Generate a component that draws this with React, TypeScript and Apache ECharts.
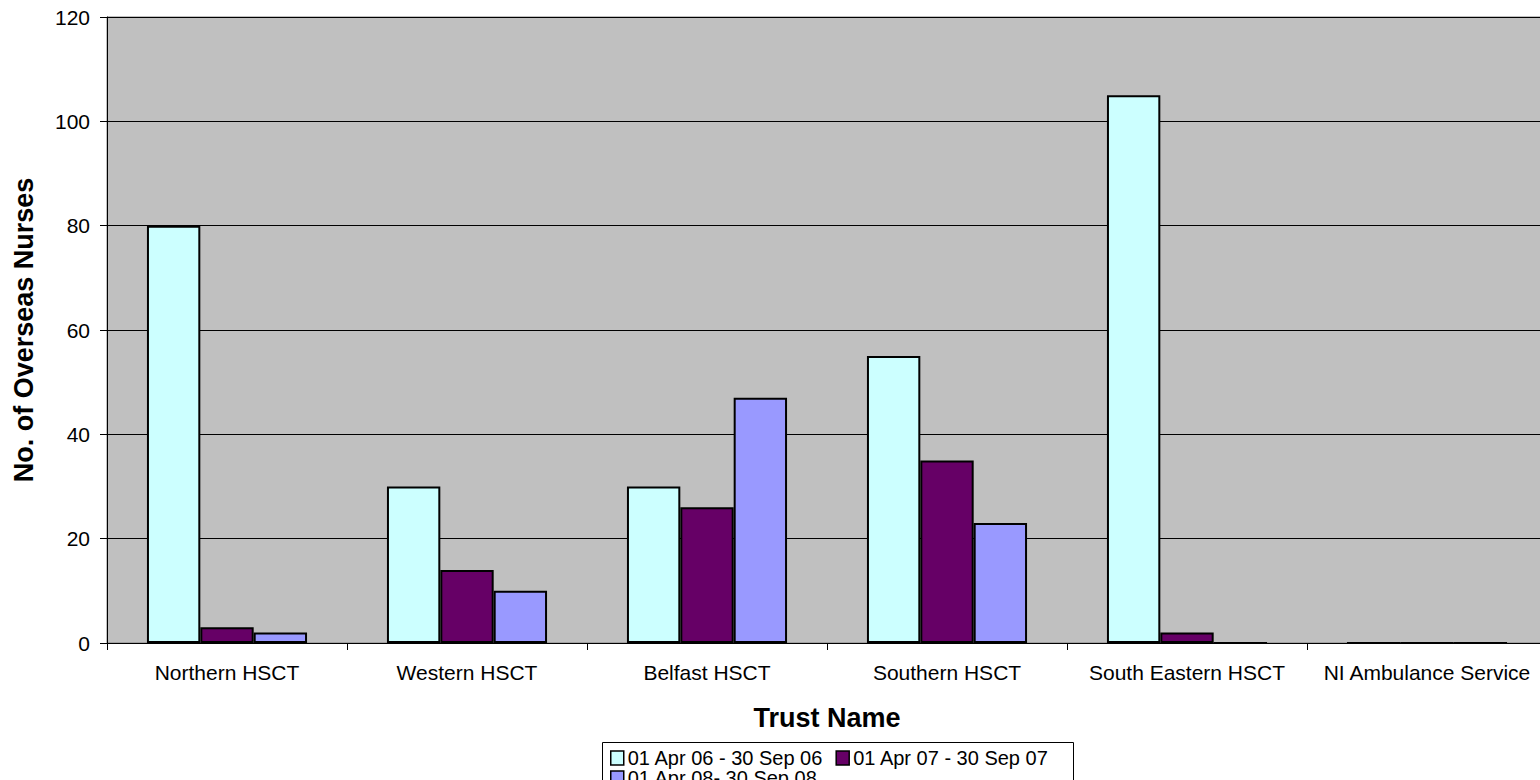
import React, { useEffect, useRef } from "react";
import * as echarts from "echarts";

const categories = [
  "Northern HSCT",
  "Western HSCT",
  "Belfast HSCT",
  "Southern HSCT",
  "South Eastern HSCT",
  "NI Ambulance Service",
];
const seriesNames = ["01 Apr 06 - 30 Sep 06", "01 Apr 07 - 30 Sep 07", "01 Apr 08- 30 Sep 08"];
const period0607 = [80, 30, 30, 55, 105, 0];
const period0708 = [3, 14, 26, 35, 2, 0];
const period0809 = [2, 10, 47, 23, 0, 0];
const seriesColors = ["#CCFFFF", "#660066", "#9999FF"];
const yTicks = { min: 0, max: 120, interval: 20 };

const FONT = "'Liberation Sans', Arial, sans-serif";

export default function App() {
  const ref = useRef<HTMLDivElement>(null);
  useEffect(() => {
    if (!ref.current) return;
    const chart = echarts.init(ref.current, undefined, { renderer: "svg" });
    const values = [period0607, period0708, period0809];
    const legendBase = {
      left: 610,
      orient: "horizontal",
      itemWidth: 13,
      itemHeight: 14,
      itemGap: 12,
      padding: 0,
      icon: "rect",
      itemStyle: { borderColor: "#000", borderWidth: 1.5 },
      textStyle: { fontFamily: FONT, fontSize: 20, color: "#000", lineHeight: 14, padding: [0, 0, 0, -1] },
    };
    chart.setOption({
      animation: false,
      backgroundColor: "#ffffff",
      textStyle: { fontFamily: FONT },
      grid: {
        left: 107,
        top: 17,
        right: 13,
        bottom: 137,
        show: true,
        backgroundColor: "#C0C0C0",
        borderColor: "#808080",
        borderWidth: 1,
      },
      legend: [
        { ...legendBase, top: 748, data: seriesNames.slice(0, 2) },
        { ...legendBase, top: 768, data: seriesNames.slice(2) },
      ],
      graphic: [
        {
          type: "rect",
          shape: { x: 602.5, y: 742.5, width: 471, height: 50 },
          style: { fill: "none", stroke: "#000", lineWidth: 1 },
          z: 100,
        },
      ],
      xAxis: {
        type: "category",
        data: categories,
        boundaryGap: true,
        name: "Trust Name",
        nameLocation: "middle",
        nameGap: 61,
        nameTextStyle: { fontFamily: FONT, fontSize: 27, fontWeight: "bold", color: "#000", verticalAlign: "top" },
        axisLine: { show: true, lineStyle: { color: "#000", width: 1 } },
        axisTick: { show: true, length: 7, alignWithLabel: false, interval: 0, lineStyle: { color: "#000" } },
        axisLabel: { fontFamily: FONT, fontSize: 21, color: "#000", margin: 19, interval: 0 },
        splitLine: { show: false },
      },
      yAxis: {
        type: "value",
        min: yTicks.min,
        max: yTicks.max,
        interval: yTicks.interval,
        name: "No. of Overseas Nurses",
        nameLocation: "middle",
        nameRotate: 90,
        nameGap: 70,
        nameTextStyle: { fontFamily: FONT, fontSize: 27, fontWeight: "bold", color: "#000" },
        axisLine: { show: true, lineStyle: { color: "#000", width: 1 } },
        axisTick: { show: true, length: 7, inside: false, lineStyle: { color: "#000" } },
        axisLabel: { fontFamily: FONT, fontSize: 21, color: "#000", margin: 17 },
        splitLine: { show: true, lineStyle: { color: "#000", width: 1 } },
      },
      series: seriesNames.map((name, i) => ({
        name,
        type: "bar",
        data: values[i],
        barGap: "0%",
        barCategoryGap: "33.3%",
        itemStyle: { color: seriesColors[i], borderColor: "#000", borderWidth: 2 },
      })),
    });
    return () => chart.dispose();
  }, []);
  return (
    <div style={{ position: "fixed", left: 0, top: 0, width: 1540, height: 780, overflow: "hidden", background: "#fff" }}>
      <div ref={ref} style={{ width: 1560, height: 780 }} />
    </div>
  );
}
